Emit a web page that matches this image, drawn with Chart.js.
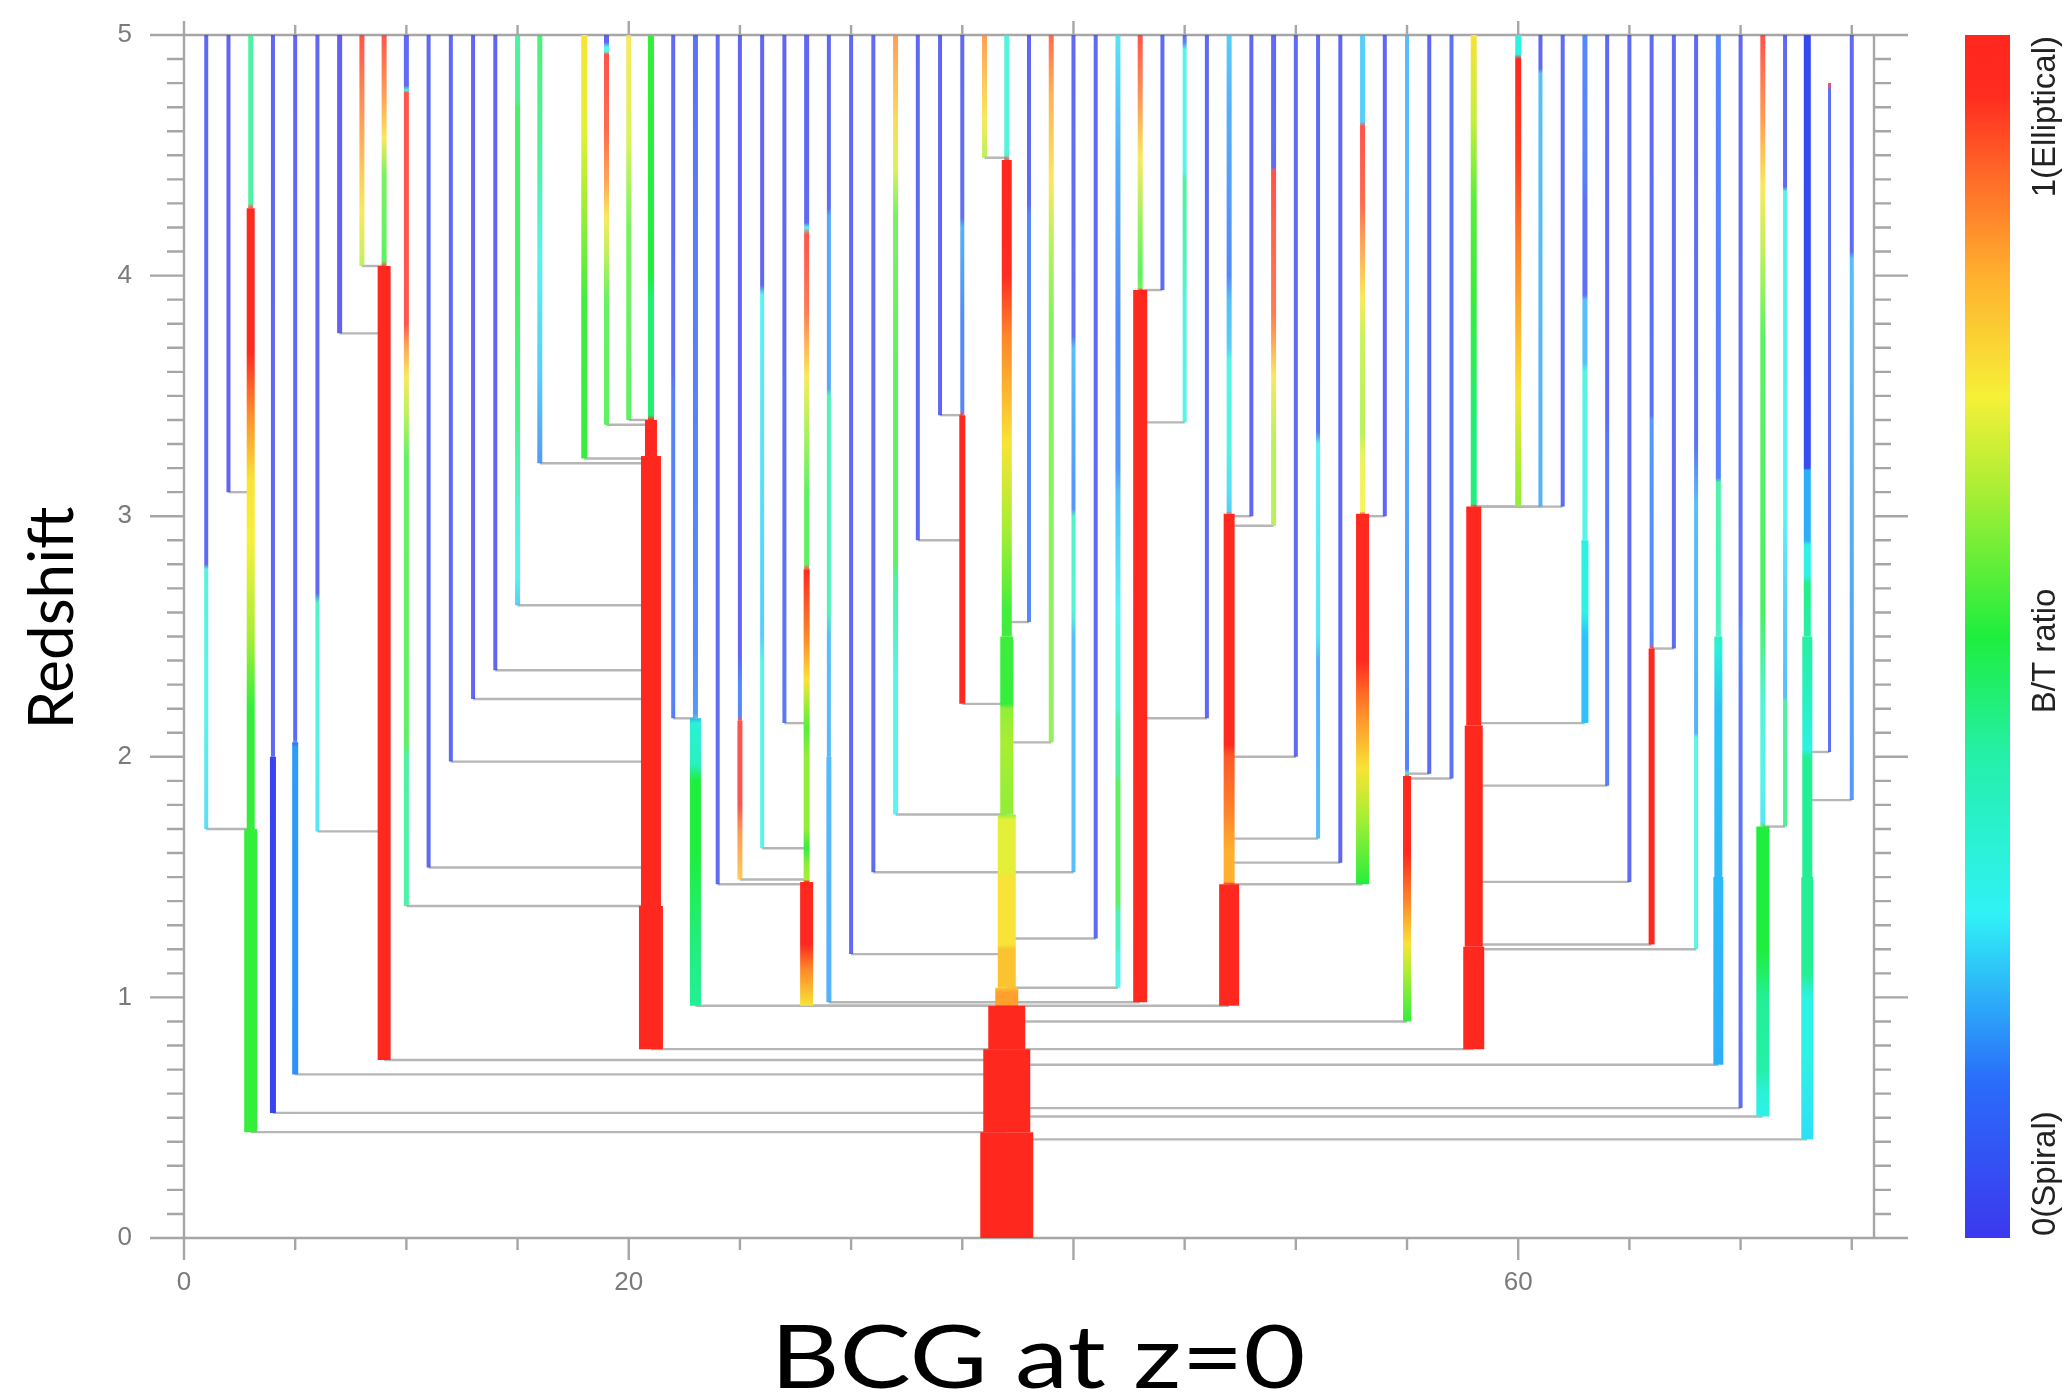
<!DOCTYPE html>
<html><head><meta charset="utf-8">
<script src="https://cdn.jsdelivr.net/npm/chart.js@4.4.1/dist/chart.umd.min.js"></script>
<style>html,body{margin:0;padding:0;background:#fff;overflow:hidden}#wrap{width:2072px;height:1397px}</style>
</head><body><div id="wrap"><canvas id="c" width="2072" height="1397" style="width:2072px;height:1397px"></canvas></div>
<script>
// ---------------- DATA ----------------
const xTickLabels = [0, 20, 60];
const yTickLabels = [0, 1, 2, 3, 4, 5];
const xMinorStep = 5, yMinorStep = 0.1;
const xAxisTitle = 'BCG at z=0';
const yAxisTitle = 'Redshift';

// progenitor branch positions (BCG index)
const branchX = [1,2,3,4,5,6,7,8,9,10,11,12,13,14,15,16,18,19,20,21,22,23,24,25,26,27,28,29,30,31,32,33,34,35,36,37,38,39,40,41,42,43,44,45,46,47,48,49,50,51,52,53,54,55,56,57,58,60,61,62,63,64,65,66,67,68,69,70,71,72,73,74,75];
// redshift where each branch starts
const branchTopZ = [5,5,5,5,5,5,5,5,5,5,5,5,5,5,5,5,5,5,5,5,5,5,5,5,5,5,5,5,5,5,5,5,5,5,5,5,5,5,5,5,5,5,5,5,5,5,5,5,5,5,5,5,5,5,5,5,5,5,5,5,5,5,5,5,5,5,5,5,5,5,5,4.8,5];
// redshift of merger (end of branch)
const branchMergeZ = [1.70,3.10,0.44,0.52,0.68,1.69,3.76,4.04,0.74,1.38,1.54,1.98,2.24,2.36,2.63,3.22,3.24,3.38,3.40,0.785,2.16,0.965,1.47,1.49,1.62,2.14,0.965,0.98,1.18,1.52,1.76,2.90,3.42,2.22,4.49,0,2.56,2.06,1.52,1.245,1.04,0.98,3.94,3.39,2.16,0.965,3.00,2.96,2.00,1.66,1.56,1.47,3.00,0.90,1.93,1.91,0.785,3.04,3.04,3.04,2.14,1.88,1.48,1.22,2.45,1.20,0.72,0.54,0.505,1.71,0.41,2.02,1.82];
// branch it merges into
const branchParentX = [3,3,37,37,37,9,9,9,37,21,21,21,21,21,21,21,21,21,21,37,23,37,28,28,28,28,37,37,37,37,37,35,35,37,37,null,37,37,37,37,37,37,43,43,43,37,47,47,47,47,47,47,53,37,55,55,37,58,58,58,58,58,58,58,66,58,37,37,37,71,37,73,73];
// relative stellar mass (line thickness) steps: [z from which it applies, mass]
const branchMass = [
 [[5,4]],[[5,4]],[[5,5],[4.28,8],[1.70,13]],[[5,4],[2.0,6]],[[5,4],[2.06,6]],[[5,4]],[[5,5]],[[5,5]],[[5,5],[4.04,13]],[[5,5]],
 [[5,4]],[[5,4]],[[5,4]],[[5,4]],[[5,5]],[[5,5]],[[5,6]],[[5,5]],[[5,5]],[[5,6],[3.40,12],[3.25,20],[1.38,24]],
 [[5,4]],[[5,5],[2.16,11]],[[5,4]],[[5,4],[2.15,5]],[[5,4]],[[5,4]],[[5,5],[2.78,6],[1.48,13]],[[5,4],[2.0,5]],[[5,4]],[[5,4]],
 [[5,5]],[[5,4]],[[5,4]],[[5,4],[3.42,6]],[[5,5]],[[5,5],[4.48,10],[2.5,13],[1.76,18],[1.04,23],[0.965,37],[0.785,47],[0.44,53]],[[5,4]],[[5,5]],[[5,4]],[[5,4]],
 [[5,5]],[[5,5],[3.94,14]],[[5,4]],[[5,4]],[[5,4]],[[5,5],[3.01,11],[1.47,20]],[[5,4]],[[5,5]],[[5,4]],[[5,4]],
 [[5,4]],[[5,5],[3.01,13]],[[5,4]],[[5,4],[1.92,8]],[[5,4]],[[5,4]],[[5,6],[3.04,15],[2.13,18],[1.21,21]],[[5,6]],[[5,4]],[[5,4]],
 [[5,5],[2.9,7]],[[5,4]],[[5,4]],[[5,4],[2.45,6]],[[5,4]],[[5,4]],[[5,5],[2.5,8],[1.5,10]],[[5,4]],[[5,5],[1.71,13]],[[5,4]],
 [[5,7],[2.5,10],[1.5,12]],[[4.8,3]],[[5,4]]
];
// bulge-to-total ratio along each branch: [z, B/T]
const branchBT = [
 [[5,.03],[2.80,.03],[2.78,.33],[2.2,.3],[1.70,.24]],
 [[5,.02],[3.1,.02]],
 [[5,.43],[4.30,.43],[4.28,.97],[3.68,.96],[3.42,.84],[3.15,.72],[2.9,.7],[2.5,.62],[2.2,.52],[0.44,.52]],
 [[5,.02],[0.52,.03]],
 [[5,.02],[2.08,.03],[2.04,.18],[0.68,.17]],
 [[5,.03],[2.68,.03],[2.64,.38],[2.2,.32],[1.69,.25]],
 [[5,0],[3.76,0]],
 [[5,.98],[4.65,.85],[4.27,.72],[4.04,.63]],
 [[5,.97],[4.75,.85],[4.57,.72],[4.42,.55],[4.06,.52],[4.04,.98],[0.74,.98]],
 [[5,.03],[4.79,.03],[4.77,.33],[4.76,.97],[3.8,.95],[3.72,.85],[3.58,.72],[3.42,.62],[3.25,.53],[2.05,.52],[2.0,.43],[1.38,.42]],
 [[5,.03],[1.54,.03]],
 [[5,.03],[1.98,.03]],
 [[5,.02],[2.24,.02]],
 [[5,.02],[2.36,.02]],
 [[5,.43],[4.72,.45],[4.7,.5],[3.9,.5],[3.4,.45],[2.95,.32],[2.75,.3],[2.63,.22]],
 [[5,.48],[4.5,.43],[4.08,.3],[3.6,.22],[3.22,.15]],
 [[5,.72],[4.6,.68],[4.32,.62],[3.9,.53],[3.24,.52]],
 [[5,.02],[4.97,.02],[4.95,.3],[4.93,.3],[4.92,.97],[4.6,.92],[4.4,.84],[4.24,.72],[4.08,.62],[3.9,.53],[3.38,.52]],
 [[5,.72],[4.55,.66],[4.2,.55],[3.4,.52]],
 [[5,.52],[4.0,.5],[3.9,.45],[3.42,.45],[3.40,.98],[0.785,.98]],
 [[5,.03],[3.6,.05],[3.5,.1],[2.16,.1]],
 [[5,.06],[3.8,.1],[2.5,.13],[2.18,.15],[2.14,.33],[1.97,.36],[1.9,.5],[1.6,.5],[1.2,.44],[0.965,.42]],
 [[5,.04],[1.47,.04]],
 [[5,.02],[2.42,.02],[2.3,.13],[2.17,.13],[2.15,.98],[1.8,.97],[1.68,.85],[1.49,.78]],
 [[5,.02],[3.96,.02],[3.92,.28],[2.5,.22],[2.4,.3],[1.62,.3]],
 [[5,.02],[3.15,.04],[2.14,.08]],
 [[5,.02],[4.22,.03],[4.2,.3],[4.17,.97],[3.85,.9],[3.72,.82],[3.58,.72],[3.4,.62],[3.1,.52],[2.8,.52],[2.78,.97],[2.5,.85],[2.32,.72],[2.2,.6],[2.12,.55],[2.0,.6],[1.7,.6],[1.62,.52],[1.55,.6],[1.49,.62],[1.48,.98],[1.22,.97],[1.12,.85],[0.965,.72]],
 [[5,.03],[4.28,.05],[4.25,.17],[3.53,.17],[3.5,.4],[2.6,.4],[2.5,.2],[0.98,.18]],
 [[5,.03],[1.18,.03]],
 [[5,.04],[1.52,.04]],
 [[5,.85],[4.65,.75],[4.45,.66],[4.25,.55],[3.6,.52],[2.8,.52],[2.75,.43],[2.5,.38],[2.35,.3],[1.76,.27]],
 [[5,.03],[2.9,.03]],
 [[5,.02],[3.42,.02]],
 [[5,.03],[4.24,.05],[4.2,.18],[3.8,.13],[3.44,.12],[3.42,.98],[2.22,.98]],
 [[5,.85],[4.65,.72],[4.49,.62]],
 [[5,.33],[4.5,.33],[4.48,.98],[4.0,.95],[3.75,.85],[3.3,.72],[2.95,.62],[2.6,.53],[2.22,.52],[2.2,.6],[2.06,.62],[1.76,.6],[1.74,.68],[1.52,.68],[1.5,.72],[1.22,.72],[1.2,.77],[1.04,.77],[1.02,.82],[0.97,.82],[0.965,.98],[0,.98]],
 [[5,.02],[4.3,.03],[4.25,.13],[2.56,.13]],
 [[5,.92],[4.75,.82],[4.4,.72],[4.15,.62],[3.8,.56],[2.06,.58]],
 [[5,.03],[3.75,.05],[3.7,.2],[3.1,.15],[3.03,.15],[3.0,.38],[2.6,.35],[2.5,.2],[1.52,.2]],
 [[5,.03],[1.245,.03]],
 [[5,.25],[4.5,.18],[3.8,.13],[3.2,.15],[3.1,.2],[2.6,.27],[2.53,.3],[2.2,.33],[2.15,.42],[1.93,.43],[1.9,.52],[1.4,.52],[1.35,.4],[1.2,.38],[1.18,.3],[1.04,.3]],
 [[5,.98],[4.73,.86],[4.49,.72],[4.2,.58],[4.0,.52],[3.95,.55],[3.94,.98],[0.98,.98]],
 [[5,.04],[3.94,.04]],
 [[5,.05],[4.97,.1],[4.94,.3],[4.43,.3],[4.4,.43],[4.0,.4],[3.9,.33],[3.39,.3]],
 [[5,.03],[2.16,.03]],
 [[5,.22],[4.7,.18],[4.0,.13],[3.9,.2],[3.7,.22],[3.65,.3],[3.3,.32],[3.1,.24],[3.02,.22],[3.01,.98],[2.05,.97],[2.0,.9],[1.8,.86],[1.6,.8],[1.48,.8],[1.47,.98],[0.965,.98]],
 [[5,.03],[3.0,.03]],
 [[5,.03],[4.45,.04],[4.44,.98],[3.85,.9],[3.75,.85],[3.58,.72],[3.3,.62],[2.96,.62]],
 [[5,.03],[2.0,.03]],
 [[5,.03],[3.35,.05],[3.3,.28],[2.5,.25],[2.4,.18],[1.66,.2]],
 [[5,.02],[1.56,.02]],
 [[5,.22],[4.64,.22],[4.62,.98],[4.3,.92],[4.15,.85],[3.9,.72],[3.75,.64],[3.35,.62],[3.25,.68],[3.02,.7],[3.01,.98],[2.4,.96],[2.2,.85],[1.95,.72],[1.75,.62],[1.5,.52],[1.47,.5]],
 [[5,.02],[3.0,.02]],
 [[5,.2],[3.5,.18],[2.5,.15],[1.95,.1],[1.93,.3],[1.92,.98],[1.6,.97],[1.4,.85],[1.22,.72],[1.1,.62],[0.9,.52]],
 [[5,.03],[1.93,.03]],
 [[5,.06],[1.91,.06]],
 [[5,.72],[4.65,.65],[4.3,.55],[3.9,.52],[3.4,.45],[3.05,.44],[3.04,.98],[0.785,.98]],
 [[5,.3],[4.92,.3],[4.9,.98],[4.5,.93],[4.1,.85],[3.75,.78],[3.5,.72],[3.2,.62],[3.04,.6]],
 [[5,.03],[4.86,.03],[4.84,.2],[3.04,.18]],
 [[5,.04],[3.04,.04]],
 [[5,.13],[4.4,.1],[4.3,.05],[3.92,.05],[3.9,.2],[3.64,.2],[3.6,.32],[2.6,.3],[2.5,.22],[2.14,.22]],
 [[5,.03],[3.4,.04],[3.3,.08],[1.88,.1]],
 [[5,.04],[1.48,.04]],
 [[5,.04],[3.42,.05],[3.4,.15],[2.47,.12],[2.45,.98],[1.22,.98]],
 [[5,.04],[2.45,.04]],
 [[5,.03],[3.3,.06],[3.05,.2],[2.1,.18],[2.08,.3],[1.2,.3]],
 [[5,.12],[3.16,.1],[3.14,.42],[2.55,.4],[2.45,.32],[2.2,.22],[0.72,.2]],
 [[5,.03],[2.6,.06],[2.5,.12],[2.3,.08],[0.54,.05]],
 [[5,.98],[4.65,.85],[4.37,.72],[4.08,.62],[3.75,.52],[2.6,.5],[2.4,.43],[2.2,.33],[1.9,.3],[1.73,.25],[1.71,.5],[1.2,.5],[1.0,.42],[0.7,.4],[0.6,.32],[0.505,.3]],
 [[5,.03],[4.37,.03],[4.35,.32],[3.0,.28],[2.6,.22],[2.25,.2],[2.23,.43],[1.71,.45]],
 [[5,.04],[3.2,.05],[3.19,.2],[2.9,.2],[2.88,.3],[2.75,.3],[2.72,.43],[2.2,.35],[2.03,.3],[2.0,.42],[1.1,.42],[1.0,.3],[0.75,.3],[0.41,.25]],
 [[4.8,.98],[4.77,.05],[2.02,.05]],
 [[5,.03],[4.1,.04],[4.07,.2],[1.82,.15]]
];
const colorbarLabels = ['0(Spiral)', 'B/T ratio', '1(Elliptical)'];

// ---------------- STYLE ----------------
const MASS_PX = 1;
const THIN_ALPHA = 0.8;
const cmapStops = [
 [0.00,[60,56,238]],[0.13,[42,108,250]],[0.27,[48,242,246]],[0.40,[36,240,170]],
 [0.50,[30,238,62]],[0.62,[168,238,52]],[0.70,[246,240,56]],[0.80,[255,176,46]],
 [0.88,[255,108,40]],[0.95,[255,44,32]],[1.00,[255,38,30]]
];
function cmapRGB(v){
  v = Math.max(0, Math.min(1, v));
  for (let i=1;i<cmapStops.length;i++){
    const [b, cb] = cmapStops[i];
    if (v <= b){
      const [a, ca] = cmapStops[i-1];
      const t = (v-a)/(b-a||1);
      return ca.map((k,j)=>Math.round(k+(cb[j]-k)*t));
    }
  }
  return cmapStops[cmapStops.length-1][1];
}
function cmap(v, alpha){
  const c = cmapRGB(v);
  return alpha === undefined ? `rgb(${c[0]},${c[1]},${c[2]})` : `rgba(${c[0]},${c[1]},${c[2]},${alpha})`;
}
function makeGradient(chart, ds, alpha){
  const ys = chart.scales.y;
  const y0 = ys.getPixelForValue(ds.data[0].y);
  const y1 = ys.getPixelForValue(ds.data[ds.data.length-1].y);
  const g = chart.ctx.createLinearGradient(0, y0, 0, y1);
  const span = (y1 - y0) || 1;
  let last = 0;
  ds.bt.forEach(([z, b]) => {
    let off = (ys.getPixelForValue(z) - y0) / span;
    off = Math.min(1, Math.max(last, off));
    g.addColorStop(off, cmap(b, alpha));
    last = off;
  });
  return g;
}
function gradients(chart, ds){
  const key = chart.chartArea ? chart.chartArea.top + ':' + chart.chartArea.bottom : 'none';
  if (!ds._g || ds._g.key !== key){
    ds._g = { key, solid: makeGradient(chart, ds), light: makeGradient(chart, ds, THIN_ALPHA) };
  }
  return ds._g;
}
function branchColor(context){
  const chart = context.chart;
  const ds = chart.data.datasets[context.datasetIndex];
  if (!chart.chartArea || !chart.scales.y || !ds || !ds.bt) return '#4040f0';
  return gradients(chart, ds).solid;
}
function segColor(c){
  const chart = c.chart;
  const ds = chart.data.datasets[c.datasetIndex];
  if (!chart.chartArea || !chart.scales.y) return undefined;
  const g = gradients(chart, ds);
  return ds.widths[c.p0DataIndex] <= 5 ? g.light : g.solid;
}

// ---------------- DATASETS ----------------
const datasets = [];
branchX.forEach((bx, i) => {
  if (branchParentX[i] === null) return;
  datasets.push({
    data: [{x: bx, y: branchMergeZ[i]}, {x: branchParentX[i], y: branchMergeZ[i]}],
    borderColor: '#b6b6b6', borderWidth: 2.4, pointRadius: 0, order: 10, clip: false
  });
});
branchX.forEach((bx, i) => {
  const steps = branchMass[i];
  const pts = steps.map((s, k) => ({x: bx, y: k === 0 ? branchTopZ[i] : s[0]}));
  pts.push({x: bx, y: branchMergeZ[i]});
  const widths = steps.map(s => s[1] * MASS_PX);
  datasets.push({
    data: pts, bt: branchBT[i], widths,
    borderColor: branchColor, borderWidth: widths[0], borderCapStyle: 'butt',
    pointRadius: 0, order: 1, clip: false,
    segment: {
      borderWidth: c => c.chart.data.datasets[c.datasetIndex].widths[c.p0DataIndex],
      borderColor: segColor
    }
  });
});

// ---------------- PLUGINS ----------------
const framePlugin = {
  id: 'frame',
  beforeDatasetsDraw(chart){
    const {ctx, chartArea: a, scales: {x, y}} = chart;
    ctx.save();
    ctx.strokeStyle = '#a6a6a6'; ctx.lineWidth = 2.4;
    ctx.beginPath();
    ctx.moveTo(a.left, a.top); ctx.lineTo(a.right, a.top); ctx.lineTo(a.right, a.bottom); ctx.lineTo(a.left, a.bottom); ctx.closePath();
    const n = Math.round((y.max - y.min) / yMinorStep);
    for (let i = 0; i <= n; i++){
      const v = y.min + i * yMinorStep;
      const py = y.getPixelForValue(v);
      const L = (i % 10 === 0) ? 34 : 17;
      ctx.moveTo(a.left - L, py); ctx.lineTo(a.left, py);
      ctx.moveTo(a.right, py); ctx.lineTo(a.right + L, py);
    }
    for (let v = 0; v <= x.max; v += xMinorStep){
      const px = x.getPixelForValue(v);
      const major = v % 20 === 0;
      ctx.moveTo(px, a.bottom); ctx.lineTo(px, a.bottom + (major ? 22 : 12));
      ctx.moveTo(px, a.top); ctx.lineTo(px, a.top - (major ? 14 : 10));
    }
    ctx.stroke();
    ctx.restore();
  },
  afterDraw(chart){
    const {ctx, chartArea: a, scales: {y}} = chart;
    const top = y.getPixelForValue(y.max), bot = y.getPixelForValue(y.min);
    ctx.save();
    // colour bar
    const g = ctx.createLinearGradient(0, bot, 0, top);
    cmapStops.forEach(s => g.addColorStop(s[0], cmap(s[0])));
    ctx.fillStyle = g;
    ctx.fillRect(1965, top, 45, bot - top);
    ctx.fillStyle = '#222';
    ctx.font = '33px "Liberation Sans", Arial, sans-serif';
    ctx.textBaseline = 'middle';
    const lx = 2046;
    const put = (txt, py, align) => { ctx.save(); ctx.translate(lx, py); ctx.rotate(-Math.PI/2); ctx.textAlign = align; ctx.fillText(txt, 0, 0); ctx.restore(); };
    put(colorbarLabels[0], bot - 2, 'left');
    put(colorbarLabels[1], y.getPixelForValue(2.44), 'center');
    put(colorbarLabels[2], top + 1, 'right');
    // axis titles
    ctx.fillStyle = '#000';
    ctx.textBaseline = 'alphabetic';
    ctx.textAlign = 'center';
    ctx.font = '88px Lato, "Open Sans", sans-serif';
    const w = ctx.measureText(xAxisTitle).width;
    ctx.save();
    ctx.translate(1038, 1388);
    ctx.scale(535 / w, 1);
    ctx.fillText(xAxisTitle, 0, 0);
    ctx.restore();
    ctx.font = '62px Lato, "Open Sans", sans-serif';
    ctx.save();
    ctx.translate(73, 618);
    ctx.rotate(-Math.PI/2);
    ctx.fillText(yAxisTitle, 0, 0);
    ctx.restore();
    ctx.restore();
  }
};

new Chart(document.getElementById('c'), {
  type: 'line',
  data: { datasets },
  options: {
    responsive: false, animation: false, devicePixelRatio: 1, events: [],
    layout: { padding: { left: 0, right: 198, top: 35, bottom: 0 } },
    elements: { line: { tension: 0 } },
    plugins: { legend: { display: false }, tooltip: { enabled: false } },
    scales: {
      x: {
        type: 'linear', min: 0, max: 76, position: 'bottom',
        grid: { display: false }, border: { display: false },
        afterBuildTicks: s => { s.ticks = xTickLabels.map(v => ({value: v})); },
        ticks: { font: { family: '"Liberation Sans", Arial, sans-serif', size: 26 }, color: '#7a7a7a', padding: 21, maxRotation: 0, autoSkip: false },
        afterFit: s => { s.height = 159; s.paddingLeft = 0; s.paddingRight = 0; }
      },
      y: {
        type: 'linear', min: 0, max: 5,
        grid: { display: false }, border: { display: false },
        afterBuildTicks: s => { s.ticks = yTickLabels.map(v => ({value: v})); },
        ticks: { font: { family: '"Liberation Sans", Arial, sans-serif', size: 26 }, color: '#7a7a7a', padding: 44 },
        afterFit: s => { s.width = 184; s.paddingTop = 0; s.paddingBottom = 0; }
      }
    }
  },
  plugins: [framePlugin]
});
</script></body></html>
